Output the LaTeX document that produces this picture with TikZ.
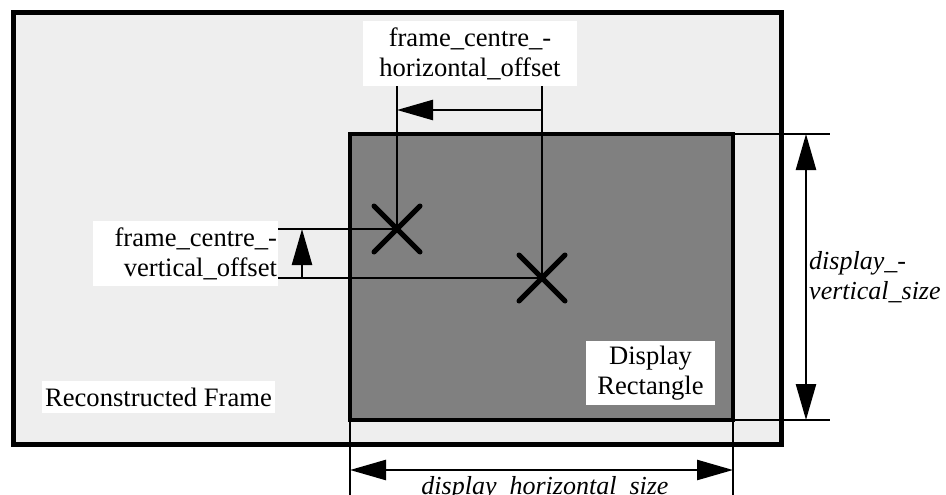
\documentclass[tikz,border=0pt]{standalone}
\usepackage{fontspec}
\setmainfont{Liberation Serif}
\usetikzlibrary{arrows.meta,calc}
\begin{document}
\begin{tikzpicture}[x=1pt,y=-1pt,
  thin line/.style={line width=1.2pt,black},
  thick border/.style={line width=5pt,black},
  dim arrow/.style={line width=2.5pt,-{Triangle[length=36pt,width=20pt]}},
  dim both/.style={line width=2.5pt,{Triangle[length=36pt,width=20pt]}-{Triangle[length=36pt,width=20pt]}},
  cross/.style={line width=5pt,line cap=round},
  label box/.style={fill=white,inner sep=1pt,font=\fontsize{26.6}{30}\selectfont},
  dim label/.style={inner sep=0pt,font=\fontsize{26}{30}\selectfont\itshape}
]
\useasboundingbox (0,0) rectangle (946,495);

% reconstructed frame and display rectangle
\draw[thick border,fill={rgb,255:red,238;green,238;blue,238}] (13,12.5) rectangle (781,444);
\draw[line width=4.5pt,fill={rgb,255:red,128;green,128;blue,128}] (350,134) rectangle (733,420);

% reference points
\coordinate (c1) at (397,229);
\coordinate (c2) at (542,278);
\coordinate (rtl) at (350,134);
\coordinate (rtr) at (733,134);
\coordinate (rbl) at (350,420);
\coordinate (rbr) at (733,420);

% text boxes
\node[label box,text width=212pt,align=center,minimum height=65pt] (hoff) at (470,53.5)
  {frame\_centre\_-\\horizontal\_offset};
\node[label box,text width=183pt,align=right,minimum height=65pt] (voff) at (185.5,253.5)
  {frame\_centre\_-\\vertical\_offset};
\node[label box,minimum width=233pt,minimum height=32pt,inner sep=0pt] (recon) at (158.5,397)
  {Reconstructed Frame};
\node[label box,text width=127pt,align=center,minimum height=64pt] (disp) at (650.5,373)
  {Display\\Rectangle};

% extension lines
\draw[thin line] (hoff.south -| c1) -- (c1);
\draw[thin line] (hoff.south -| c2) -- (c2);
\draw[thin line] (voff.east |- c1) -- (c1);
\draw[thin line] (voff.east |- c2) -- (c2);
\coordinate (vt) at (830,134);
\coordinate (vb) at (830,420);
\draw[thin line] (rtr) ++(2,0) -- (vt);
\draw[thin line] (rbr) ++(2,0) -- (vb);
\coordinate (hl) at (350,495);
\coordinate (hr) at (733,495);
\draw[thin line] (rbl) ++(0,2) -- (hl);
\draw[thin line] (rbr) ++(0,2) -- (hr);

% centre marks
\draw[cross] ($(c1)+(-23,-23)$) -- ($(c1)+(23,23)$);
\draw[cross] ($(c1)+(-23,23)$) -- ($(c1)+(23,-23)$);
\draw[cross] ($(c2)+(-23,-23)$) -- ($(c2)+(23,23)$);
\draw[cross] ($(c2)+(-23,23)$) -- ($(c2)+(23,-23)$);

% offset arrows
\coordinate (ha) at (542,110);
\draw[dim arrow] (ha) -- (ha -| c1);
\coordinate (va) at (302,278);
\draw[dim arrow] (va) -- (va |- c1);

% size arrows
\coordinate (vs1) at (806,134);
\coordinate (vs2) at (806,420);
\draw[dim both] (vs1) -- (vs2);
\coordinate (hs1) at (350,470);
\coordinate (hs2) at (733,470);
\draw[dim both] (hs1) -- (hs2);

% size labels
\node[dim label,anchor=west,align=left] (vsize) at (809,277) {display\_-\\vertical\_size};
\node[dim label,anchor=base] (hsize) at (545,494.5) {display\_horizontal\_size};
\end{tikzpicture}
\end{document}
